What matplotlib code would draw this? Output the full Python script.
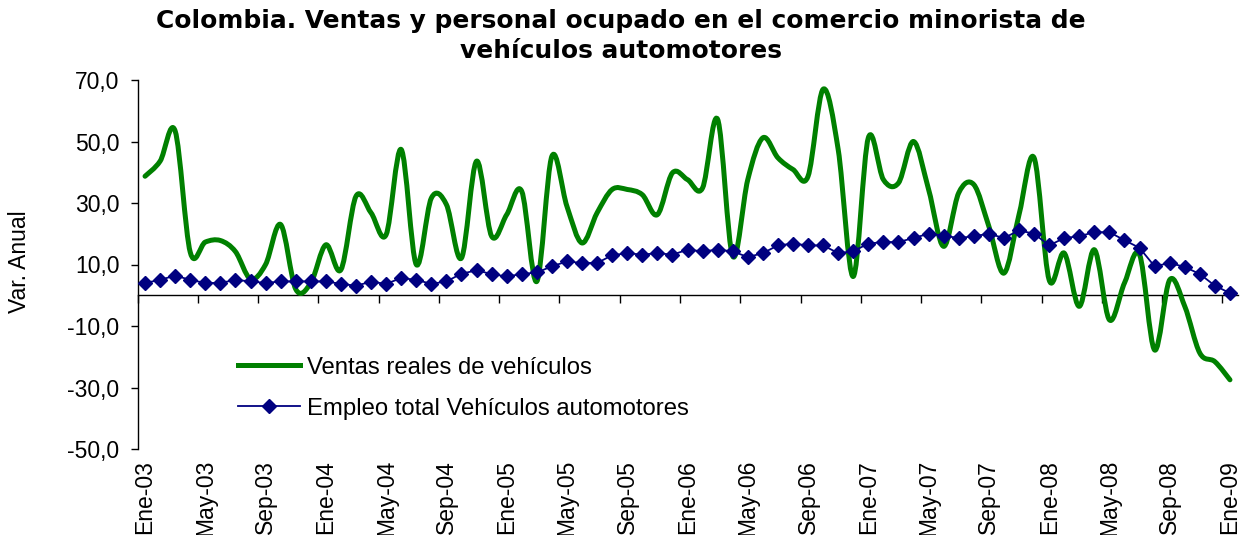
#!/usr/bin/env python3

import numpy as np
import matplotlib.pyplot as plt
from matplotlib.path import Path
from matplotlib.patches import PathPatch
from matplotlib.lines import Line2D

months = ["Ene", "Feb", "Mar", "Abr", "May", "Jun", "Jul", "Ago", "Sep", "Oct", "Nov", "Dic"]
years = ["03", "04", "05", "06", "07", "08", "09"]

ventas = [38.7, 43.6, 53.4, 14.0, 17.3, 17.8, 14.2, 5.3, 10.0, 23.0, 2.0, 4.0,
          16.4, 8.3, 32.2, 26.8, 19.7, 47.4, 10.0, 31.6, 29.5, 12.1, 43.6, 19.2,
          26.2, 33.8, 4.5, 45.2, 28.9, 17.0, 26.8, 34.4, 34.4, 32.7, 26.2, 39.8,
          37.6, 34.9, 57.2, 12.7, 37.6, 51.2, 44.7, 40.9, 38.7, 67.0, 47.4, 6.1,
          51.2, 37.6, 36.5, 50.0, 34.4, 15.9, 33.3, 36.0, 22.4, 7.2, 26.2, 44.7,
          5.0, 13.7, -3.6, 14.8, -8.0, 4.0, 13.2, -17.8, 5.0, -3.6, -18.8, -21.6,
          -27.5]

empleo = [4.0, 5.0, 6.4, 5.0, 4.0, 4.0, 5.0, 4.5, 4.0, 4.5, 4.5, 4.5,
          4.5, 3.7, 3.1, 4.4, 3.7, 5.6, 5.0, 3.7, 4.5, 7.0, 8.1, 6.9,
          6.1, 6.9, 7.4, 9.4, 11.0, 10.5, 10.5, 13.0, 13.7, 13.2, 13.7, 13.2,
          14.8, 14.3, 14.8, 14.3, 12.4, 13.7, 16.2, 16.8, 16.2, 16.2, 13.7, 14.3,
          16.8, 17.3, 17.3, 18.6, 20.0, 19.4, 18.6, 19.2, 20.0, 18.6, 21.1, 20.0,
          16.2, 18.6, 19.2, 20.5, 20.5, 17.9, 15.4, 9.4, 10.5, 9.2, 6.9, 3.1,
          0.7]

yticks = [-50, -30, -10, 10, 30, 50, 70]


def smooth_path(x, y):
  # Excel-like smoothed line: cubic bezier segments through every point
  pts = np.column_stack([x, y])
  n = len(pts)
  verts = [pts[0]]
  codes = [Path.MOVETO]
  for i in range(n - 1):
    p_prev = pts[max(i - 1, 0)]
    p0 = pts[i]
    p1 = pts[i + 1]
    p_next = pts[min(i + 2, n - 1)]
    c1 = p0 + (p1 - p_prev) / 6.0
    c2 = p1 - (p_next - p0) / 6.0
    verts += [c1, c2, p1]
    codes += [Path.CURVE4] * 3
  return Path(verts, codes)


def main():
  plt.rcParams["font.family"] = ["Liberation Sans", "DejaVu Sans"]
  fs = 16.5
  green = "#008000"
  navy = "#000080"

  labels = ["%s-%s" % (m, y) for y in years for m in months][:len(ventas)]
  x = np.arange(len(ventas))

  fig = plt.figure(figsize=(12.41, 5.35), dpi=100)
  ax = fig.add_axes([137.5 / 1241, 1 - 449 / 535, 1100 / 1241, 369 / 535])

  ax.add_patch(PathPatch(smooth_path(x, ventas), facecolor="none", edgecolor=green,
                         lw=3.6, capstyle="round", joinstyle="round", zorder=3))
  blue, = ax.plot(x, empleo, color=navy, lw=1.3, marker="D", markersize=7,
                  label="Empleo total Vehículos automotores", zorder=4)

  ymin, ymax = -50, 70
  ax.set_xlim(-0.5, len(ventas) - 0.5)
  ax.set_ylim(ymin, ymax)
  ax.set_yticks(yticks)
  ax.set_yticklabels([("%.1f" % v).replace(".", ",") for v in yticks], fontsize=fs)
  ax.tick_params(axis="y", direction="out", length=5, width=1, pad=8)

  for s in ["top", "right", "bottom"]:
    ax.spines[s].set_visible(False)
  ax.spines["left"].set_linewidth(1)

  # category labels at the bottom, every 4 months
  ax.set_xticks(x[::4])
  ax.set_xticklabels(labels[::4], rotation=90, fontsize=fs, va="top")
  ax.tick_params(axis="x", length=0, pad=8)

  # zero line acting as category axis with boundary tick marks
  zero = ax.secondary_xaxis((0 - ymin) / (ymax - ymin))
  zero.set_xticks(np.arange(-0.5, len(ventas) - 1, 4))
  zero.set_xticklabels([])
  zero.tick_params(direction="out", length=6, width=1)
  zero.spines["bottom"].set_linewidth(1)

  handles = [Line2D([], [], color=green, lw=3.6), blue]
  ax.legend(handles, ["Ventas reales de vehículos", "Empleo total Vehículos automotores"],
            fontsize=17.2, frameon=False, loc="upper left", bbox_to_anchor=(216 / 1241, 1 - 335 / 535),
            bbox_transform=fig.transFigure, handlelength=2.6, handletextpad=0.3, labelspacing=0.8)

  fig.text(0.5, 1 - 36 / 535,
           "Colombia. Ventas y personal ocupado en el comercio minorista de\nvehículos automotores",
           ha="center", va="center", fontsize=17.9, fontweight="bold", linespacing=1.3,
           family=["DejaVu Sans"])
  fig.text(20 / 1241, 1 - 262 / 535, "Var. Anual", rotation=90, ha="center", va="center", fontsize=fs)

  fig.savefig("out.png", dpi=100)
  print("Saved to out.png")


if __name__ == "__main__":
  main()
